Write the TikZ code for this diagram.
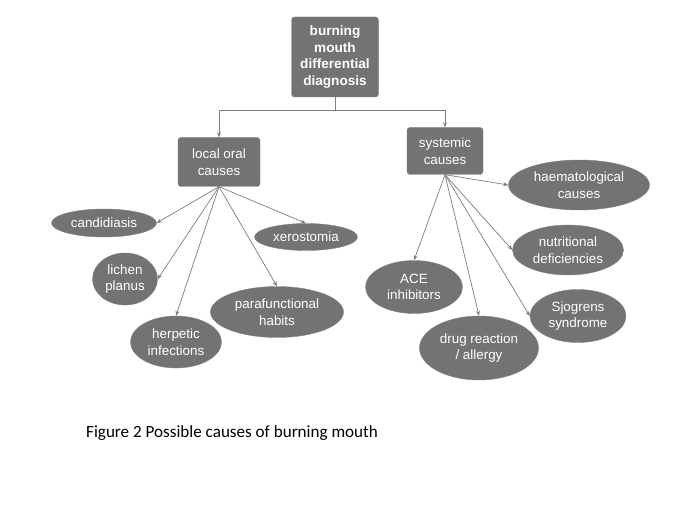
\documentclass[tikz,border=0pt]{standalone}
\usepackage{fontspec}
\setmainfont{Liberation Sans}
\newfontfamily\capfont{Carlito}
\usetikzlibrary{positioning, arrows.meta, shapes.geometric}
\definecolor{boxcol}{RGB}{115,115,115}
\definecolor{linecol}{RGB}{125,125,125}
\tikzset{
  causebox/.style={rectangle, rounded corners=3pt, fill=boxcol, draw=boxcol!90,
                   text=white, align=center, inner sep=2pt,
                   font=\fontsize{13.4}{16.5}\selectfont},
  rootbox/.style={causebox, font=\fontsize{13.6}{16.8}\selectfont\bfseries},
  leaf/.style={ellipse, fill=boxcol, draw=boxcol!90, text=white,
               align=center, inner sep=0pt,
               font=\fontsize{13.4}{16.7}\selectfont},
  arr/.style={-{Stealth[length=5pt, width=4pt]}, line width=0.7pt, linecol},
}

\begin{document}
\begin{tikzpicture}[x=1pt, y=-1pt]
    \useasboundingbox[fill=white] (0,0) rectangle (685,513);

    \node[rootbox, minimum width=87pt, minimum height=80pt] (root) at (335,57) {burning\\mouth\\differential\\diagnosis};
    \coordinate (fork) at (335,110);
    \node[causebox, minimum width=82pt, minimum height=49pt] (local) at (219,162) {local oral\\causes};
    \node[causebox, minimum width=76pt, minimum height=47pt] (systemic) at (445,151) {systemic\\causes};

    % local oral causes
    \node[leaf, minimum width=105pt, minimum height=28pt] (candida) at (104,223) {candidiasis};
    \node[leaf, minimum width=65pt, minimum height=52pt] (lichen) at (125,279) {lichen\\planus};
    \node[leaf, minimum width=91pt, minimum height=52pt] (herpes) at (176,342) {herpetic\\infections};
    \node[leaf, minimum width=133pt, minimum height=51pt] (parafunc) at (277,312) {parafunctional\\habits};
    \node[leaf, minimum width=103pt, minimum height=27pt] (xero) at (306,237) {xerostomia};

    % systemic causes
    \node[leaf, minimum width=141pt, minimum height=50pt] (haemat) at (579,185) {haematological\\causes};
    \node[leaf, minimum width=111pt, minimum height=50pt] (nutri) at (568,250) {nutritional\\deficiencies};
    \node[leaf, minimum width=97pt, minimum height=53pt] (ace) at (414,287) {ACE\\inhibitors};
    \node[leaf, minimum width=119pt, minimum height=64pt] (drug) at (479,348) {drug reaction\\/ allergy};
    \node[leaf, minimum width=96pt, minimum height=53pt] (sjogren) at (578,316) {Sjogrens\\syndrome};

    \draw[arr] (root.south) -- (fork) -| (local.north);
    \draw[arr] (root.south) -- (fork) -| (systemic.north);

    \draw[arr] (local.south) -- (candida.east);
    \draw[arr] (local.south) -- (lichen.east);
    \draw[arr] (local.south) -- (herpes.north);
    \draw[arr] (local.south) -- (parafunc.north);
    \draw[arr] (local.south) -- (xero.north);

    \draw[arr] (systemic.south) -- (haemat.west);
    \draw[arr] (systemic.south) -- (nutri.west);
    \draw[arr] (systemic.south) -- (ace.north);
    \draw[arr] (systemic.south) -- (drug.north);
    \draw[arr] (systemic.south) -- (sjogren.west);

    % caption
    \node[anchor=west, font=\capfont\fontsize{17.1}{20}\selectfont, inner sep=0pt] (caption) at (86,433) {Figure 2 Possible causes of burning mouth};
\end{tikzpicture}
\end{document}
